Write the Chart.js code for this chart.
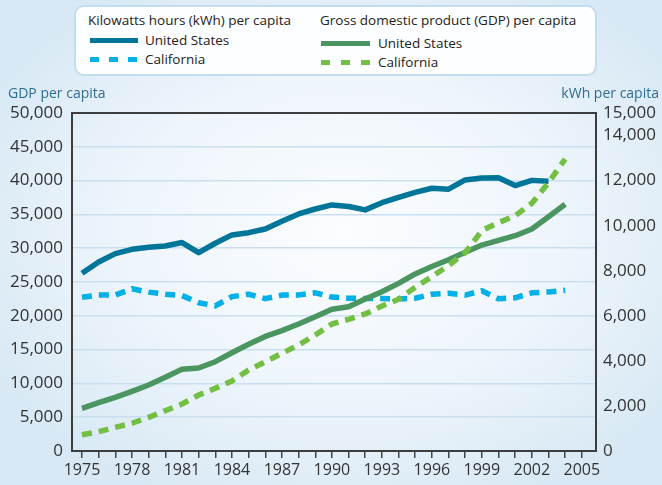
<!DOCTYPE html>
<html lang="en">
<head>
  <meta charset="UTF-8">
  <title>kWh and GDP per capita</title>
  <script src="https://cdn.jsdelivr.net/npm/chart.js"></script>
  <style>
    html, body { margin: 0; padding: 0; }
    body {
      width: 662px; height: 485px; overflow: hidden; position: relative;
      font-family: "Open Sans", "Liberation Sans", sans-serif;
      background: radial-gradient(ellipse 60% 60% at 52% 48%, #fbfdff 0%, #eef5fb 55%, #d8e9f5 100%);
    }
    #grafico { position: absolute; left: 0; top: 0; }
    .legenda {
      position: absolute; left: 74px; top: 5px; width: 519px; height: 67px;
      border: 2px solid #c3ddf0; border-radius: 10px; background: #fdfeff;
    }
    .txt { position: absolute; font-size: 13.5px; line-height: 16px; color: #222; white-space: nowrap; }
    .amostra { position: absolute; height: 5px; }
    .titulo { position: absolute; top: 84px; font-size: 14px; line-height: 18px; color: #2e6d8e; }
  </style>
</head>
<body>

  <canvas id="grafico" width="662" height="485"></canvas>

  <div class="legenda"></div>
  <div class="txt" style="left:88px; top:12px;">Kilowatts hours (kWh) per capita</div>
  <div class="amostra" style="left:90px; top:38px; width:48px; background:#00759a;"></div>
  <div class="txt" style="left:145px; top:32px;">United States</div>
  <div class="amostra" style="left:90px; top:57px; width:9px; background:#00b0e6;"></div>
  <div class="amostra" style="left:109px; top:57px; width:9px; background:#00b0e6;"></div>
  <div class="amostra" style="left:128px; top:57px; width:9px; background:#00b0e6;"></div>
  <div class="txt" style="left:145px; top:51px;">California</div>

  <div class="txt" style="left:320px; top:12px;">Gross domestic product (GDP) per capita</div>
  <div class="amostra" style="left:321px; top:41px; width:49px; background:#4b9560;"></div>
  <div class="txt" style="left:378px; top:35px;">United States</div>
  <div class="amostra" style="left:321px; top:60px; width:9px; background:#72bf44;"></div>
  <div class="amostra" style="left:341px; top:60px; width:9px; background:#72bf44;"></div>
  <div class="amostra" style="left:361px; top:60px; width:9px; background:#72bf44;"></div>
  <div class="txt" style="left:378px; top:54px;">California</div>

  <div class="titulo" style="left:8px;">GDP per capita</div>
  <div class="titulo" style="right:3px;">kWh per capita</div>

<script>
  // anos
  const anos = [1975, 1976, 1977, 1978, 1979, 1980, 1981, 1982, 1983, 1984,
    1985, 1986, 1987, 1988, 1989, 1990, 1991, 1992, 1993, 1994,
    1995, 1996, 1997, 1998, 1999, 2000, 2001, 2002, 2003, 2004];

  // kWh per capita (eixo direito)
  const kwhEUA = [7890, 8390, 8760, 8950, 9040, 9100, 9250, 8800, 9220, 9590,
    9690, 9850, 10200, 10520, 10740, 10920, 10850, 10700, 11020, 11260,
    11480, 11660, 11620, 12030, 12120, 12130, 11780, 12010, 11970, null];
  const kwhCalifornia = [6820, 6920, 6920, 7200, 7050, 6960, 6900, 6580, 6440, 6850,
    6960, 6760, 6920, 6920, 7020, 6830, 6780, 6770, 6770, 6750,
    6780, 6960, 7000, 6920, 7110, 6760, 6800, 7020, 7060, 7130];

  // PIB per capita (eixo esquerdo)
  const pibEUA = [6320, 7150, 7940, 8830, 9760, 10900, 12080, 12280, 13210, 14540,
    15780, 16950, 17800, 18790, 19870, 20960, 21350, 22490, 23570, 24800,
    26200, 27300, 28300, 29400, 30470, 31170, 31850, 32840, 34660, 36490];
  const pibCalifornia = [2400, 2860, 3500, 4100, 4980, 5960, 6950, 8280, 9270, 10360,
    11980, 13200, 14450, 15680, 17160, 18790, 19480, 20270, 21450, 22440,
    24220, 25790, 27450, 29340, 32600, 33780, 34800, 36640, 39700, 43200];

  // ticks dos eixos
  const ticksAnos = [];
  for (let a = 1975; a <= 2005; a++) ticksAnos.push(a);
  const ticksKwh = [0, 2000, 4000, 6000, 8000, 10000, 12000, 14000, 15000];

  function pontos(valores) {
    return anos.map((a, i) => ({ x: a, y: valores[i] }));
  }

  // moldura em volta da area do grafico
  const moldura = {
    id: 'moldura',
    beforeDatasetsDraw(chart) {
      const { ctx, chartArea } = chart;
      ctx.save();
      ctx.strokeStyle = '#3d3d3d';
      ctx.lineWidth = 2;
      ctx.strokeRect(chartArea.left, chartArea.top, chartArea.right - chartArea.left, chartArea.bottom - chartArea.top);
      ctx.restore();
    }
  };

  const fonteTicks = { family: '"Open Sans", "Liberation Sans", sans-serif', size: 17 };

  const config = {
    type: 'line',
    data: {
      datasets: [
        {
          label: 'kWh United States', data: pontos(kwhEUA), yAxisID: 'y1',
          borderColor: '#00759a', borderWidth: 5.5, order: 3
        },
        {
          label: 'kWh California', data: pontos(kwhCalifornia), yAxisID: 'y1',
          borderColor: '#00b0e6', borderWidth: 5.5, borderDash: [10, 7], order: 2
        },
        {
          label: 'GDP United States', data: pontos(pibEUA), yAxisID: 'y',
          borderColor: '#4b9560', borderWidth: 5.5, order: 1
        },
        {
          label: 'GDP California', data: pontos(pibCalifornia), yAxisID: 'y',
          borderColor: '#72bf44', borderWidth: 5.5, borderDash: [10, 7], order: 0
        }
      ]
    },
    options: {
      responsive: false,
      animation: false,
      spanGaps: false,
      elements: {
        point: { radius: 0 },
        line: { tension: 0, borderCapStyle: 'butt', borderJoinStyle: 'round', fill: false }
      },
      layout: { padding: { top: 113, left: 0, right: 0, bottom: 0 } },
      plugins: { legend: { display: false }, tooltip: { enabled: false } },
      scales: {
        x: {
          type: 'linear', position: 'bottom', min: 1974.4, max: 2005.85,
          afterBuildTicks: (s) => { s.ticks = ticksAnos.map(v => ({ value: v })); },
          afterFit: (s) => { s.height = 34; },
          ticks: {
            autoSkip: false, maxRotation: 0, padding: 3,
            color: '#333', font: { family: fonteTicks.family, size: 16 },
            callback: (v) => ((v - 1975) % 3 === 0 ? String(v) : '')
          },
          grid: { drawOnChartArea: false, drawTicks: true, tickLength: 7, color: '#444', lineWidth: 1.5 },
          border: { display: false }
        },
        y: {
          type: 'linear', position: 'left', min: 0, max: 50000,
          afterFit: (s) => { s.width = 72; },
          ticks: {
            stepSize: 5000, padding: 9, color: '#333', font: fonteTicks,
            callback: (v) => v.toLocaleString('en-US')
          },
          grid: { color: '#c9dff0', lineWidth: 1.5, drawTicks: false },
          border: { display: false }
        },
        y1: {
          type: 'linear', position: 'right', min: 0, max: 15000,
          afterBuildTicks: (s) => { s.ticks = ticksKwh.map(v => ({ value: v })); },
          afterFit: (s) => { s.width = 66; },
          ticks: {
            autoSkip: false, padding: 7, color: '#333', font: fonteTicks,
            callback: (v) => v.toLocaleString('en-US')
          },
          grid: { drawOnChartArea: false, drawTicks: false },
          border: { display: false }
        }
      }
    },
    plugins: [moldura]
  };

  let myChart = new Chart(document.getElementById('grafico'), config);
</script>
</body>
</html>
